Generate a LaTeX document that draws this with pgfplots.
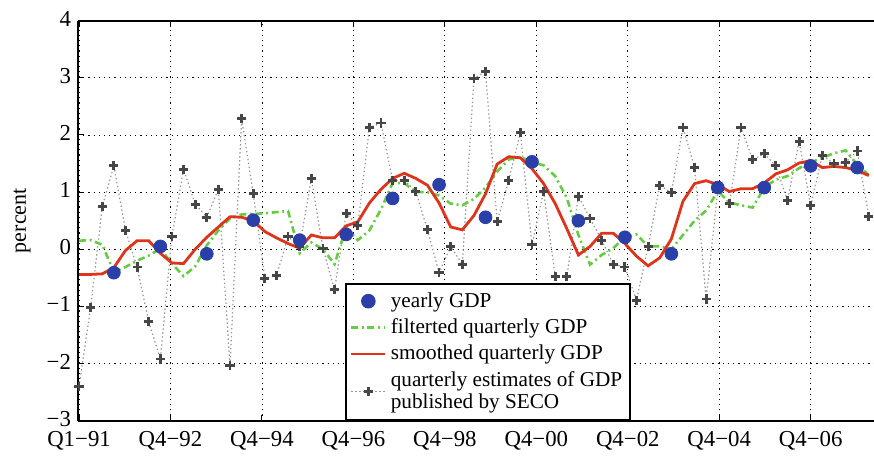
\documentclass[border=0pt]{standalone}
\usepackage{fontspec}
\setmainfont{Liberation Serif}
\usepackage{pgfplots}
\usepackage{pgfplotstable}
\pgfplotsset{compat=1.18}
\definecolor{dotblue}{RGB}{43,63,168}
\definecolor{smred}{RGB}{222,52,28}
\definecolor{figreen}{RGB}{102,204,68}
\definecolor{crossgray}{RGB}{70,70,70}
\definecolor{linegray}{RGB}{150,150,150}
\pgfplotstableread{
i est filt smooth
0 -2.40 0.15 -0.44
1 -1.02 0.16 -0.44
2 0.75 0.08 -0.43
3 1.46 -0.40 -0.32
4 0.33 -0.31 -0.02
5 -0.31 -0.20 0.15
6 -1.27 -0.11 0.15
7 -1.92 0.01 -0.07
8 0.23 -0.25 -0.24
9 1.40 -0.47 -0.25
10 0.79 -0.30 0.00
11 0.56 0.07 0.21
12 1.05 0.33 0.39
13 -2.04 0.54 0.57
14 2.29 0.61 0.56
15 0.97 0.62 0.50
16 -0.51 0.63 0.31
17 -0.46 0.65 0.20
18 0.22 0.67 0.10
19 0.05 -0.07 0.02
20 1.24 0.12 0.25
21 0.01 0.00 0.20
22 -0.71 -0.26 0.20
23 0.63 0.38 0.41
24 0.41 0.16 0.48
25 2.13 0.33 0.81
26 2.21 0.70 1.05
27 1.20 1.16 1.24
28 1.21 1.16 1.33
29 1.01 1.00 1.24
30 0.34 1.00 1.12
31 -0.41 0.94 0.81
32 0.05 0.80 0.39
33 -0.26 0.77 0.34
34 2.99 0.88 0.59
35 3.11 1.08 0.97
36 0.48 1.36 1.49
37 1.21 1.57 1.62
38 2.04 1.62 1.60
39 0.08 1.52 1.41
40 1.01 1.47 1.15
41 -0.47 1.28 0.80
42 -0.48 0.90 0.36
43 0.93 0.25 -0.10
44 0.54 -0.27 0.05
45 0.16 -0.10 0.28
46 -0.26 0.02 0.28
47 -0.31 0.21 0.10
48 -0.89 0.26 -0.12
49 0.05 0.05 -0.29
50 1.12 0.05 -0.15
51 0.99 0.00 0.18
52 2.13 0.25 0.84
53 1.43 0.50 1.15
54 -0.87 0.68 1.20
55 1.04 1.02 1.13
56 0.80 0.82 1.01
57 2.13 0.77 1.06
58 1.57 0.73 1.06
59 1.67 1.08 1.16
60 1.46 1.22 1.32
61 0.85 1.28 1.39
62 1.89 1.42 1.51
63 0.76 1.52 1.55
64 1.64 1.60 1.43
65 1.50 1.68 1.45
66 1.52 1.73 1.43
67 1.72 1.48 1.38
68 0.58 1.30 1.29
}\quarterly
\pgfplotstableread{
i gdp
3 -0.41
7 0.05
11 -0.08
15 0.51
19 0.16
23 0.26
27 0.89
31 1.13
35 0.56
39 1.53
43 0.50
47 0.21
51 -0.08
55 1.08
59 1.08
63 1.46
67 1.43
}\yearly
\begin{document}
\begin{tikzpicture}
\begin{axis}[
  at={(0,0)}, anchor=south west,
  scale only axis,
  width=398pt, height=200pt,
  xmin=-0.09, xmax=68.45,
  ymin=-3, ymax=4,
  axis x line*=box, axis y line*=left,
  axis line style={line width=0.9pt, black},
  xtick={0,7.875,15.75,23.625,31.5,39.375,47.25,55.125,63},
  xticklabels={Q1−91,Q4−92,Q4−94,Q4−96,Q4−98,Q4−00,Q4−02,Q4−04,Q4−06},
  ytick={-3,-2,-1,0,1,2,3,4},
  yticklabels={−3,−2,−1,0,1,2,3,4},
  tick label style={font=\fontsize{11.4}{13}\selectfont},
  xticklabel style={yshift=-2pt},
  yticklabel style={yshift=1pt},
  tick align=inside,
  major tick length=3pt,
  tick style={black, line width=0.5pt},
  grid=major,
  major grid style={black, line width=0.45pt, dash pattern=on 0.6pt off 2pt},
  ylabel={percent},
  every axis y label/.style={at={(axis description cs:-0.0704,0.5)}, rotate=90, anchor=center, font=\fontsize{11}{13}\selectfont},
  legend style={at={(axis description cs:0.3354,0)}, anchor=south west,
    draw=black, line width=0.9pt, font=\fontsize{10.6}{11.2}\selectfont,
    cells={anchor=west, align=left}, row sep=0.3pt, inner sep=2pt},
  legend cell align=left,
  clip=true,
]
\addlegendimage{only marks, mark=*, mark size=3.2pt, dotblue, mark options={draw=dotblue, fill=dotblue}}
\addlegendentry{yearly GDP}
\addlegendimage{figreen, line width=1.3pt, dash pattern=on 3.5pt off 1.8pt on 1pt off 1.8pt}
\addlegendentry{filterted quarterly GDP}
\addlegendimage{smred, line width=1.4pt}
\addlegendentry{smoothed quarterly GDP}
\addlegendimage{linegray, line width=0.6pt, dash pattern=on 0.7pt off 1.3pt, mark=+, mark size=2.3pt, mark options={solid, crossgray, line width=1.4pt}}
\addlegendentry{quarterly estimates of GDP\\published by SECO}

\addplot[forget plot, linegray, line width=0.6pt, dash pattern=on 0.7pt off 1.3pt, mark=+, mark size=2.3pt, mark options={solid, crossgray, line width=1.4pt}] table[x=i, y=est] {\quarterly};
\addplot[forget plot, figreen, line width=1.3pt, dash pattern=on 3.5pt off 1.8pt on 1pt off 1.8pt] table[x=i, y=filt] {\quarterly};
\addplot[forget plot, smred, line width=1.4pt] table[x=i, y=smooth] {\quarterly};
\addplot[forget plot, only marks, mark=*, mark size=3.2pt, mark options={draw=dotblue, fill=dotblue}] table[x=i, y=gdp] {\yearly};
\end{axis}
\pgfresetboundingbox
\useasboundingbox (-39pt,-17.65pt) rectangle (398pt,210.35pt);
\end{tikzpicture}
\end{document}
